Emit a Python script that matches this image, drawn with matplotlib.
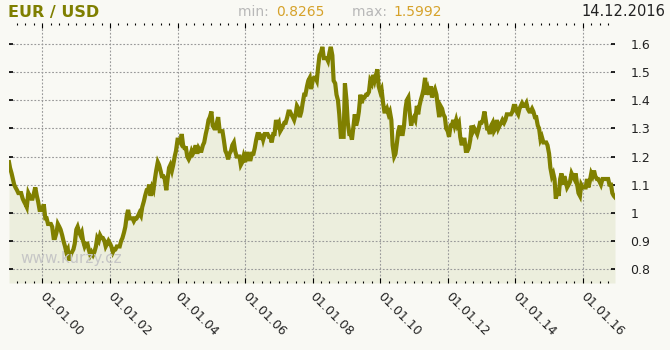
import datetime as dt
import matplotlib
matplotlib.use("Agg")
import matplotlib.pyplot as plt
import matplotlib.dates as mdates
from matplotlib.transforms import ScaledTranslation

# ---- data (semi-monthly readings: 1st and 15th of each month) ----
v1999 = [1.18, 1.16, 1.14, 1.12, 1.10, 1.09, 1.08, 1.07, 1.07, 1.07, 1.05, 1.04,
         1.03, 1.02, 1.07, 1.06, 1.05, 1.05, 1.07, 1.09, 1.06, 1.04, 1.01, 1.01]
v2000 = [1.01, 1.03, 0.98, 0.98, 0.96, 0.96, 0.96, 0.95, 0.91, 0.91, 0.93, 0.96,
         0.95, 0.94, 0.92, 0.90, 0.88, 0.86, 0.87, 0.83, 0.85, 0.86, 0.87, 0.89]
v2001 = [0.94, 0.95, 0.93, 0.92, 0.93, 0.90, 0.88, 0.89, 0.89, 0.87, 0.85, 0.86,
         0.85, 0.86, 0.88, 0.91, 0.90, 0.92, 0.91, 0.91, 0.90, 0.88, 0.89, 0.90]
v2002 = [0.89, 0.88, 0.86, 0.87, 0.87, 0.88, 0.88, 0.88, 0.90, 0.91, 0.93, 0.95,
         0.99, 1.01, 0.98, 0.98, 0.98, 0.97, 0.98, 0.98, 0.99, 1.00, 0.99, 1.02]
v2003 = [1.04, 1.06, 1.08, 1.08, 1.10, 1.06, 1.09, 1.08, 1.12, 1.15, 1.18, 1.17,
         1.15, 1.13, 1.13, 1.12, 1.08, 1.12, 1.16, 1.17, 1.15, 1.17, 1.20, 1.22]
v2004 = [1.26, 1.26, 1.25, 1.28, 1.24, 1.23, 1.23, 1.20, 1.19, 1.20, 1.22, 1.21,
         1.22, 1.24, 1.21, 1.23, 1.22, 1.22, 1.24, 1.25, 1.28, 1.30, 1.33, 1.34]
v2005 = [1.36, 1.31, 1.30, 1.30, 1.32, 1.34, 1.29, 1.29, 1.29, 1.26, 1.22, 1.21,
         1.19, 1.21, 1.22, 1.24, 1.25, 1.22, 1.20, 1.20, 1.20, 1.17, 1.18, 1.20]
v2006 = [1.18, 1.21, 1.21, 1.19, 1.19, 1.21, 1.21, 1.23, 1.26, 1.28, 1.28, 1.26,
         1.28, 1.26, 1.28, 1.28, 1.28, 1.27, 1.27, 1.25, 1.28, 1.28, 1.33, 1.31]
v2007 = [1.32, 1.29, 1.30, 1.31, 1.32, 1.32, 1.34, 1.36, 1.36, 1.35, 1.34, 1.33,
         1.35, 1.38, 1.37, 1.34, 1.36, 1.39, 1.42, 1.42, 1.45, 1.47, 1.48, 1.44]
v2008 = [1.47, 1.48, 1.48, 1.47, 1.52, 1.56, 1.57, 1.59, 1.55, 1.55, 1.55, 1.54,
         1.57, 1.59, 1.56, 1.47, 1.46, 1.42, 1.40, 1.35, 1.27, 1.27, 1.27, 1.46]
v2009 = [1.40, 1.32, 1.28, 1.28, 1.26, 1.30, 1.35, 1.31, 1.33, 1.36, 1.42, 1.39,
         1.41, 1.41, 1.42, 1.42, 1.43, 1.47, 1.46, 1.49, 1.47, 1.49, 1.51, 1.45]
v2010 = [1.43, 1.44, 1.39, 1.36, 1.36, 1.37, 1.35, 1.36, 1.33, 1.24, 1.20, 1.21,
         1.25, 1.29, 1.31, 1.28, 1.28, 1.31, 1.37, 1.40, 1.41, 1.36, 1.31, 1.33]
v2011 = [1.34, 1.33, 1.38, 1.35, 1.38, 1.40, 1.42, 1.44, 1.48, 1.42, 1.44, 1.42,
         1.45, 1.41, 1.43, 1.44, 1.42, 1.38, 1.34, 1.38, 1.37, 1.35, 1.34, 1.30]
v2012 = [1.29, 1.27, 1.31, 1.31, 1.33, 1.31, 1.33, 1.31, 1.32, 1.27, 1.24, 1.26,
         1.26, 1.22, 1.22, 1.23, 1.26, 1.31, 1.29, 1.30, 1.29, 1.28, 1.30, 1.32]
v2013 = [1.32, 1.33, 1.36, 1.33, 1.30, 1.30, 1.28, 1.31, 1.32, 1.29, 1.30, 1.33,
         1.30, 1.31, 1.32, 1.33, 1.32, 1.33, 1.35, 1.35, 1.35, 1.35, 1.36, 1.38]
v2014 = [1.38, 1.36, 1.35, 1.37, 1.38, 1.39, 1.38, 1.38, 1.39, 1.37, 1.36, 1.36,
         1.37, 1.36, 1.34, 1.34, 1.31, 1.30, 1.26, 1.27, 1.25, 1.25, 1.25, 1.24]
v2015 = [1.21, 1.16, 1.13, 1.14, 1.12, 1.05, 1.08, 1.06, 1.12, 1.14, 1.10, 1.13,
         1.11, 1.09, 1.10, 1.11, 1.14, 1.13, 1.12, 1.14, 1.10, 1.07, 1.06, 1.10]
v2016 = [1.09, 1.09, 1.09, 1.12, 1.09, 1.11, 1.14, 1.13, 1.15, 1.13, 1.12, 1.12,
         1.11, 1.10, 1.12, 1.12, 1.12, 1.12, 1.12, 1.10, 1.10, 1.07, 1.06, 1.055]

years = list(range(1999, 2017))
yearly_values = [v1999, v2000, v2001, v2002, v2003, v2004, v2005, v2006, v2007,
                 v2008, v2009, v2010, v2011, v2012, v2013, v2014, v2015, v2016]

ytick_values = [0.8, 0.9, 1.0, 1.1, 1.2, 1.3, 1.4, 1.5, 1.6]
ytick_labels = ["0.8", "0.9", "1", "1.1", "1.2", "1.3", "1.4", "1.5", "1.6"]

title_text = "EUR / USD"
min_text = "0.8265"
max_text = "1.5992"
date_text = "14.12.2016"
watermark = "www.kurzy.cz"

# ---- build series ----
dates, values = [], []
for yr, vals in zip(years, yearly_values):
    i = 0
    for m in range(1, 13):
        for d in (1, 15):
            dates.append(dt.datetime(yr, m, d))
            values.append(vals[i])
            i += 1
dates[0] = dt.datetime(1999, 1, 4)
dates[-1] = dt.datetime(2016, 12, 14)

# ---- figure ----
bg = "#f9f9f4"
olive = "#808000"
fill_c = "#eceedd"
grid_c = "#9a9a9a"

fig = plt.figure(figsize=(6.7, 3.5), dpi=100, facecolor=bg)
ax = fig.add_axes([9 / 670, 1 - 283 / 350, (615 - 9) / 670, (283 - 23) / 350])
ax.set_facecolor(bg)

ymin, ymax = 0.75, 1.675
ax.set_ylim(ymin, ymax)
ax.set_xlim(dates[0], dates[-1])

ax.fill_between(dates, values, ymin, color=fill_c, zorder=1, linewidth=0)
fig.text(20 / 670, 1 - 258 / 350, watermark, fontsize=11, color="#c6c6c6",
         va="center", ha="left", zorder=2)
ax.plot(dates, values, color=olive, lw=3.0, zorder=4, solid_joinstyle="miter")

# axes styling
for s in ax.spines.values():
    s.set_visible(False)

ax.yaxis.tick_right()
ax.set_yticks(ytick_values)
ax.set_yticklabels(ytick_labels)
ax.tick_params(axis="y", which="major", left=True, right=True, direction="in",
               length=3, width=1.2, color="black", labelsize=9, labelcolor="#222222",
               pad=11)

ax.xaxis.set_major_locator(mdates.YearLocator(2, month=1, day=1))
ax.xaxis.set_major_formatter(mdates.DateFormatter("%d.%m.%y"))
ax.xaxis.set_minor_locator(mdates.MonthLocator(bymonth=[1, 4, 7, 10]))
ax.tick_params(axis="x", which="major", top=True, bottom=True, direction="in",
               length=3.5, width=0.8, color="black", labelsize=9, labelcolor="#222222",
               pad=5)
ax.tick_params(axis="x", which="minor", top=True, bottom=True, direction="in",
               length=1.5, width=0.8, color="black")
shift = ScaledTranslation(4 / 100, 0, fig.dpi_scale_trans)
for lab in ax.get_xticklabels():
    lab.set_rotation(-45)
    lab.set_ha("left")
    lab.set_va("top")
    lab.set_rotation_mode("anchor")
    lab.set_transform(lab.get_transform() + shift)

ax.grid(True, which="major", axis="both", color=grid_c, linestyle=(0, (1.6, 1.6)),
        linewidth=0.8, zorder=3)
ax.set_axisbelow(False)
for gl in ax.get_xgridlines() + ax.get_ygridlines():
    gl.set_zorder(3)

# header texts
fig.text(8 / 670, 1 - 12 / 350, title_text, fontsize=11.5, fontweight="bold",
         color="#7f7f00", va="center", ha="left")
fig.text(238 / 670, 1 - 12 / 350, "min: ", fontsize=10, color="#b8b8b8",
         va="center", ha="left")
fig.text(276 / 670, 1 - 12 / 350, min_text, fontsize=10, color="#d6a22a",
         va="center", ha="left")
fig.text(352 / 670, 1 - 12 / 350, "max: ", fontsize=10, color="#b8b8b8",
         va="center", ha="left")
fig.text(393 / 670, 1 - 12 / 350, max_text, fontsize=10, color="#d6a22a",
         va="center", ha="left")
fig.text(665 / 670, 1 - 12 / 350, date_text, fontsize=10.5, color="#222222",
         va="center", ha="right")

fig.savefig("out.png", dpi=100, facecolor=bg)
